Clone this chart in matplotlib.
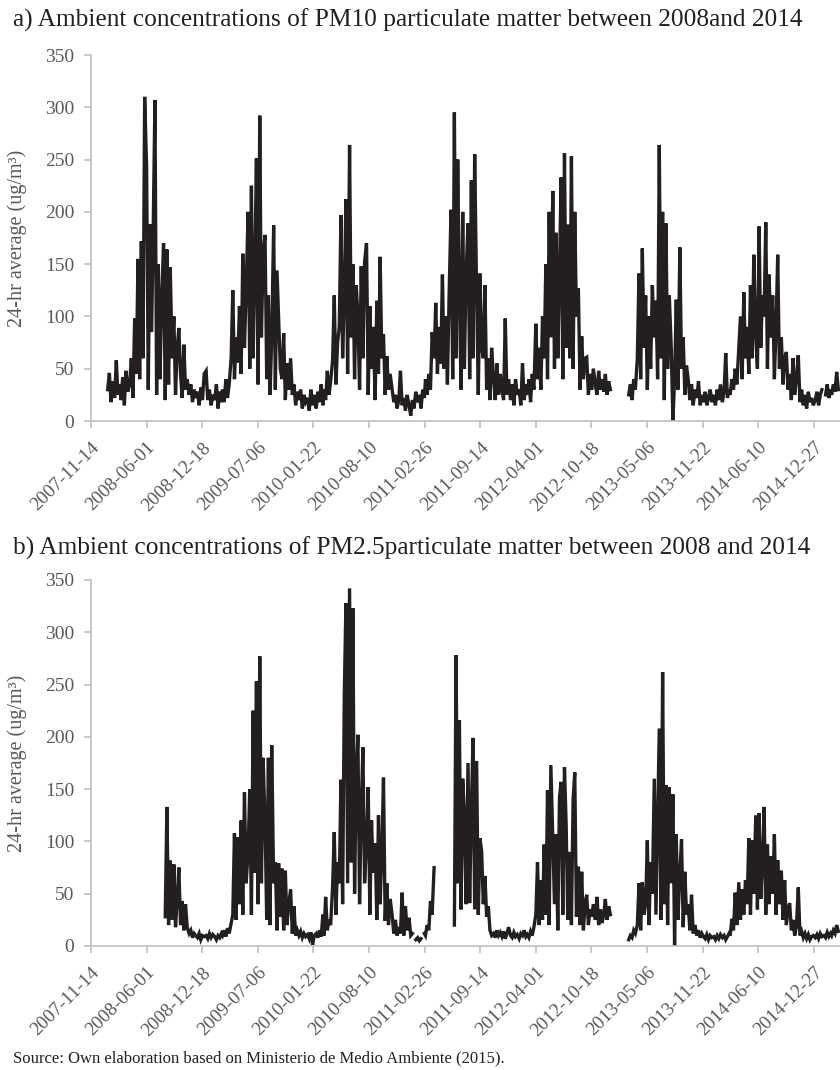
import datetime as dt
import numpy as np
import matplotlib
matplotlib.use("Agg")
import matplotlib.pyplot as plt
import matplotlib.dates as mdates

nan = np.nan

# 5 readings per month, taken on days 1, 7, 13, 19, 25
day_offsets = [0, 6, 12, 18, 24]

# PM10 (ug/m3)
pm10_2008 = [nan, nan, 30, 46, 18,  38, 22, 58, 25, 35,  20, 42, 15, 48, 28,
             35, 60, 22, 98, 45,  155, 40, 172, 60, 310,  243, 30, 188, 85, 188,
             307, 25, 150, 40, 115,  170, 20, 164, 35, 147,  60, 100, 25, 70, 89,
             45, 22, 73, 30, 40,  25, 35, 18, 30, 22,  28, 15, 32, 20, 45]
pm10_2009 = [48, 20, 30, 15, 25,  20, 35, 12, 28, 18,  30, 18, 40, 22, 35,
             60, 125, 40, 80, 56,  110, 45, 160, 70, 125,  200, 50, 225, 60, 140,
             251, 35, 292, 80, 160,  178, 40, 120, 25, 80,  187, 30, 144, 98, 50,
             40, 84, 20, 55, 30,  60, 25, 35, 15, 28,  20, 30, 12, 25, 18]
pm10_2010 = [22, 10, 30, 15, 25,  12, 28, 18, 35, 15,  30, 20, 48, 25, 38,
             58, 120, 35, 75, 90,  197, 60, 120, 212, 45,  264, 80, 150, 40, 130,
             100, 30, 148, 60, 152,  170, 25, 110, 50, 90,  20, 115, 45, 157, 60,
             83, 25, 62, 30, 45,  30, 18, 25, 12, 20,  48, 15, 22, 10, 25]
pm10_2011 = [15, 5, 20, 12, 28,  18, 25, 12, 30, 22,  40, 25, 45, 30, 85,
             60, 113, 45, 90, 55,  140, 50, 100, 35, 120,  202, 40, 295, 60, 250,
             120, 30, 200, 50, 140,  189, 40, 230, 60, 255,  122, 25, 141, 70, 60,
             130, 30, 60, 20, 70,  40, 20, 55, 25, 45,  30, 20, 98, 25, 40]
pm10_2012 = [20, 35, 15, 40, 25,  30, 15, 55, 20, 35,  25, 40, 18, 45, 30,
             93, 40, 70, 30, 100,  60, 150, 40, 200, 80,  220, 50, 180, 60, 140,
             233, 40, 256, 70, 188,  60, 253, 50, 200, 100,  127, 30, 81, 40, 60,
             61, 25, 45, 30, 50,  35, 25, 48, 30, 40,  28, 45, 25, 38, 30]
pm10_2013 = [nan, nan, nan, nan, nan,  nan, nan, nan, nan, nan,  25, 35, 20, 40, 30,
             60, 141, 40, 165, 70,  120, 30, 100, 50, 130,  80, 115, 40, 264, 60,
             200, 20, 189, 50, 120,  70, 0, 40, 116, 30,  166, 50, 80, 25, 53,
             40, 20, 35, 15, 30,  22, 38, 15, 25, 18,  28, 15, 22, 30, 18]
pm10_2014 = [25, 15, 30, 20, 35,  18, 28, 65, 22, 30,  25, 40, 30, 50, 35,
             70, 100, 40, 123, 60,  90, 45, 130, 60, 159,  80, 50, 186, 70, 120,
             100, 190, 50, 140, 80,  120, 40, 90, 159, 50,  80, 35, 60, 66, 30,
             45, 20, 60, 25, 40,  63, 18, 30, 15, 25,  12, 28, 18, 22, 15]
pm10_2015 = [20, 28, 15, 25, 30,  nan, 25, 35, 22, 30,  25, 35, 28, 47, 30]

# PM2.5 (ug/m3)
pm25_2008 = [nan] * 35 + [nan, 28, 133, 20, 82,  25, 78, 18, 45, 75,
             20, 43, 15, 40, 18,  12, 15, 8, 12, 10,  8, 12, 6, 10, 9]
pm25_2009 = [10, 7, 12, 8, 11,  9, 6, 10, 8, 12,  10, 15, 9, 17, 12,
             22, 30, 108, 25, 104,  40, 120, 30, 147, 60,  90, 150, 30, 225, 70,
             253, 40, 277, 60, 180,  120, 25, 180, 20, 192,  60, 80, 15, 79, 28,
             74, 15, 72, 20, 40,  54, 12, 38, 10, 15,  10, 14, 8, 12, 9]
pm25_2010 = [11, 7, 13, 1, 10,  12, 8, 15, 9, 30,  10, 47, 15, 25, 20,
             57, 109, 30, 80, 60,  159, 40, 240, 328, 60,  342, 80, 323, 50, 160,
             202, 40, 130, 190, 60,  100, 152, 30, 120, 70,  98, 25, 125, 40, 90,
             161, 24, 60, 20, 45,  30, 12, 25, 10, 18,  12, 51, 10, 38, 15]
pm25_2011 = [27, 10, 12, nan, 6,  8, 5, 7, nan, 12,  10, 20, 15, 43, 30,
             75, nan, nan, nan, nan,  nan, nan, nan, nan, nan,  nan, nan, 20, 278, 60,
             216, 35, 160, 125, 40,  175, 41, 131, 199, 35,  177, 30, 103, 91, 40,
             67, 28, 38, 15, 10,  12, 8, 15, 10, 13,  9, 14, 7, 12, 18]
pm25_2012 = [10, 8, 13, 9, 11,  7, 12, 10, 15, 9,  11, 8, 14, 10, 18,
             30, 80, 20, 63, 25,  97, 30, 149, 20, 173,  100, 40, 107, 15, 142,
             157, 30, 171, 116, 25,  90, 20, 140, 166, 28,  76, 20, 71, 15, 40,
             49, 20, 35, 28, 40,  25, 47, 20, 35, 22,  30, 45, 25, 38, 30]
pm25_2013 = [nan, nan, nan, nan, nan,  nan, nan, nan, nan, nan,  6, 10, 8, 15, 12,
             20, 60, 15, 61, 30,  40, 101, 20, 80, 50,  160, 30, 120, 208, 25,
             262, 40, 154, 20, 152,  60, 145, 0, 107, 25,  70, 102, 18, 71, 30,
             40, 15, 49, 12, 20,  10, 15, 8, 12, 9,  7, 11, 6, 10, 8]
pm25_2014 = [9, 6, 10, 7, 11,  8, 10, 6, 9, 12,  10, 26, 15, 51, 20,
             61, 25, 54, 30, 63,  40, 103, 30, 101, 50,  125, 35, 127, 45, 80,
             133, 30, 97, 40, 86,  50, 107, 30, 82, 40,  72, 25, 63, 20, 35,
             41, 15, 25, 10, 18,  56, 10, 14, 8, 12,  7, 11, 6, 9, 10]
pm25_2015 = [8, 11, 7, 12, 9,  10, 8, 13, 9, 12,  10, 15, 12, 20, 14]

years = [2008, 2009, 2010, 2011, 2012, 2013, 2014, 2015]
pm10_years = [pm10_2008, pm10_2009, pm10_2010, pm10_2011,
              pm10_2012, pm10_2013, pm10_2014, pm10_2015]
pm25_years = [pm25_2008, pm25_2009, pm25_2010, pm25_2011,
              pm25_2012, pm25_2013, pm25_2014, pm25_2015]

tick_start = dt.date(2007, 11, 14)
tick_step = 200  # days between axis labels
n_ticks = 14
x_end = dt.date(2015, 3, 31)

title_a = "a) Ambient concentrations of PM10 particulate matter between 2008and 2014"
title_b = "b) Ambient concentrations of PM2.5particulate matter between 2008 and 2014"
source = "Source: Own elaboration based on Ministerio de Medio Ambiente (2015)."
ylab = "24-hr average (ug/m\u00b3)"


def build(year_lists):
    dates, vals = [], []
    for y, v in zip(years, year_lists):
        for i, val in enumerate(v):
            m = i // 5 + 1
            d = dt.date(y, m, 1) + dt.timedelta(days=day_offsets[i % 5])
            dates.append(d)
            vals.append(val)
    return dates, np.array(vals, dtype=float)


plt.rcParams['font.family'] = ['Liberation Serif', 'DejaVu Serif']

fig = plt.figure(figsize=(8.4, 10.7), dpi=100)
ax_a = fig.add_axes([91 / 840, 1 - 421 / 1070, 1 - 91 / 840, 366 / 1070])
ax_b = fig.add_axes([91 / 840, 1 - 946 / 1070, 1 - 91 / 840, 366 / 1070])

ticks = [tick_start + dt.timedelta(days=tick_step * i) for i in range(n_ticks)]
grey = '#595959'
spine_c = '#bfbfbf'

for ax, data in [(ax_a, pm10_years), (ax_b, pm25_years)]:
    d, v = build(data)
    ax.plot(d, v, color='#231f20', lw=2.4, solid_joinstyle='miter')
    ax.set_ylim(0, 350)
    ax.set_yticks(range(0, 351, 50))
    ax.set_xlim(tick_start, x_end)
    ax.set_xticks(ticks)
    ax.xaxis.set_major_formatter(mdates.DateFormatter('%Y-%m-%d'))
    for s in ['top', 'right']:
        ax.spines[s].set_visible(False)
    for s in ['left', 'bottom']:
        ax.spines[s].set_color(spine_c)
        ax.spines[s].set_linewidth(1.2)
    ax.tick_params(axis='both', colors=spine_c, labelcolor=grey, length=5,
                   width=1.2, labelsize=14)
    ax.tick_params(axis='x', pad=8, labelsize=13.8)
    ax.tick_params(axis='y', pad=7)
    for lab in ax.get_xticklabels():
        lab.set_rotation(45)
        lab.set_ha('right')
        lab.set_va('top')
        lab.set_rotation_mode('anchor')
    ax.set_ylabel(ylab, color=grey, fontsize=14.5)
    ax.yaxis.set_label_coords(-64 / 749, 0.5)

fig.text(13 / 840, 1 - 20 / 1070, title_a, fontsize=18.3, va='center', color='#231f20')
fig.text(13 / 840, 1 - 548 / 1070, title_b, fontsize=18.3, va='center', color='#231f20')
fig.text(13 / 840, 1 - 1058 / 1070, source, fontsize=12, va='center', color='#231f20')

fig.savefig('out.png', dpi=100)
